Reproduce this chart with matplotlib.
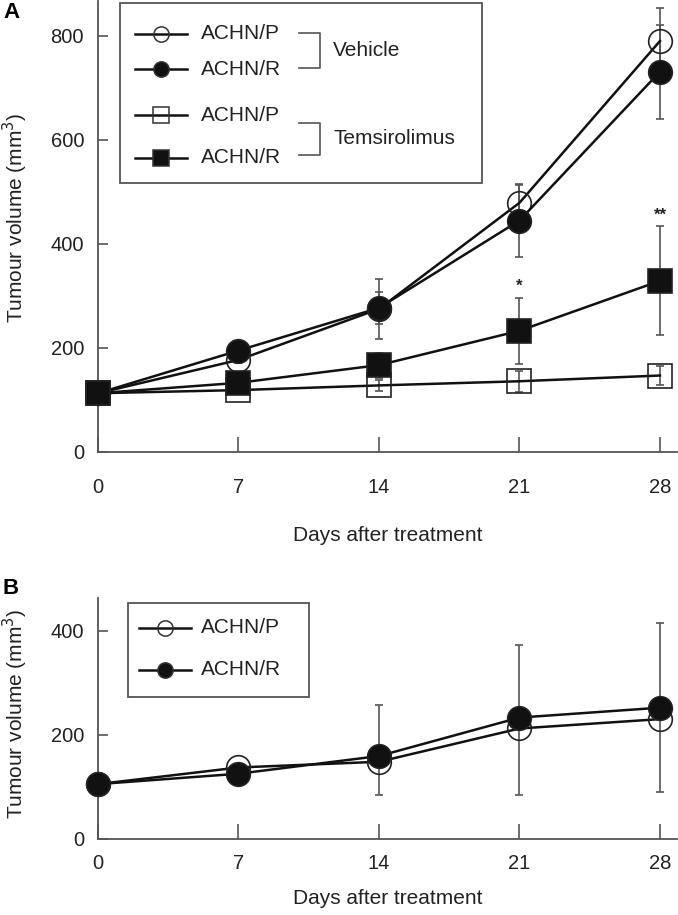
import numpy as np
import matplotlib.pyplot as plt
from matplotlib.patches import Rectangle

plt.rcParams['font.family'] = ['Liberation Sans', 'DejaVu Sans']

# ==========================================
# data
# ==========================================
days = [0, 7, 14, 21, 28]

# panel A : vehicle / temsirolimus, ACHN/P and ACHN/R
veh_p = [113, 177, 275, 479, 790]
veh_p_err = [0, 6, 57, 35, 64]
veh_r = [113, 195, 277, 445, 731]
veh_r_err = [0, 8, 30, 71, 90]
tem_p = [113, 119, 128, 136, 147]
tem_p_err = [0, 4, 10, 20, 18]
tem_r = [113, 133, 167, 233, 329]
tem_r_err = [0, 6, 24, 64, 105]

sig_days = [21, 28]
sig_marks = ['*', '**']

# panel B : ACHN/P and ACHN/R (bars drawn one side only)
b_p = [105, 137, 148, 212, 230]
b_p_lo = [0, 0, 64, 128, 141]
b_r = [105, 125, 159, 233, 252]
b_r_hi = [0, 0, 98, 139, 163]

x_ticks = [0, 7, 14, 21, 28]
ticks_a = [0, 200, 400, 600, 800]
ticks_b = [0, 200, 400]

# ==========================================
# style
# ==========================================
LINE = '#111111'
ERR = '#555555'
AXC = '#555555'
TXT = '#222222'
MS = 17
FS = 15


def draw_err(ax, x, y, lo, hi):
    x, y, lo, hi = map(np.asarray, (x, y, lo, hi))
    ax.vlines(x, y - lo, y + hi, color=ERR, lw=1.2, zorder=2)
    m = hi > 0
    ax.plot(x[m], (y + hi)[m], ls='none', marker='_', ms=6, mew=1.2, color=ERR, zorder=2)
    m = lo > 0
    ax.plot(x[m], (y - lo)[m], ls='none', marker='_', ms=6, mew=1.2, color=ERR, zorder=2)


def style_axes(ax, ymax, yticks, xpad):
    ax.set_xlim(0, 28.85)
    ax.set_ylim(0, ymax)
    for s in ['top', 'right']:
        ax.spines[s].set_visible(False)
    for s in ['left', 'bottom']:
        ax.spines[s].set_color(AXC)
        ax.spines[s].set_linewidth(1.3)
    ax.set_xticks(x_ticks)
    ax.set_yticks(yticks)
    ax.tick_params(axis='y', direction='in', length=7, width=1.2, color=AXC,
                   pad=10, labelsize=14.5, labelcolor=TXT)
    ax.tick_params(axis='x', direction='in', length=11, width=1.2, color=AXC,
                   pad=xpad, labelsize=14.5, labelcolor=TXT)
    ax.set_ylabel('Tumour volume (mm$^3$)', fontsize=FS, color=TXT)
    ax.yaxis.set_label_coords(-0.118, 0.52)


def legend_row(ax, y, label, marker, filled):
    ax.plot([0.064, 0.109, 0.154] if ax is axA else [0.071, 0.116, 0.161], [y, y, y],
            transform=ax.transAxes, color=LINE, lw=1.8, marker=marker, markevery=[1],
            ms=11, mfc=LINE if filled else 'none', mec='#333333', mew=1.1, clip_on=False)
    ax.text(0.178, y, label, transform=ax.transAxes, fontsize=FS, color=TXT, va='center')


fig = plt.figure(figsize=(6.78, 9.15), dpi=100)
axA = fig.add_axes([98 / 678, 1 - 452 / 915, 579 / 678, 451 / 915])
axB = fig.add_axes([98 / 678, 1 - 838.7 / 915, 579 / 678, 240.7 / 915])

# ==========================================
# panel A
# ==========================================
style_axes(axA, 867, ticks_a, 19)
axA.set_xlabel('Days after treatment', fontsize=FS, color=TXT)
axA.xaxis.set_label_coords(0.5, -0.165)

series_a = [
    (veh_p, veh_p_err, 'o', False),
    (veh_r, veh_r_err, 'o', True),
    (tem_p, tem_p_err, 's', False),
    (tem_r, tem_r_err, 's', True),
]
for vals, err, mk, filled in series_a:
    draw_err(axA, days, vals, err, err)
for i, (vals, err, mk, filled) in enumerate(series_a):
    axA.plot(days, vals, color=LINE, lw=1.8, marker=mk, ms=MS,
             mfc=LINE if filled else 'none', mec='#222222', mew=1.2, zorder=3 + i,
             clip_on=False)

# significance marks above the temsirolimus ACHN/R bars
for d, s in zip(sig_days, sig_marks):
    i = days.index(d)
    axA.text(d, tem_r[i] + tem_r_err[i] + 22, s, ha='center', va='center',
             fontsize=12, fontweight='bold', color=TXT)

# legend box with brackets
axA.add_patch(Rectangle((0.038, 0.597), 0.625, 0.399, transform=axA.transAxes,
                        fill=False, ec=AXC, lw=1.3, clip_on=False, zorder=10))
legend_row(axA, 0.9275, 'ACHN/P', 'o', False)
legend_row(axA, 0.8486, 'ACHN/R', 'o', True)
legend_row(axA, 0.7472, 'ACHN/P', 's', False)
legend_row(axA, 0.6519, 'ACHN/R', 's', True)
for y0, y1, lab in [(0.928, 0.851, 'Vehicle'), (0.730, 0.6585, 'Temsirolimus')]:
    axA.plot([0.347, 0.383, 0.383, 0.347], [y0, y0, y1, y1], transform=axA.transAxes,
             color=ERR, lw=1.2, clip_on=False)
    axA.text(0.406, (y0 + y1) / 2, lab, transform=axA.transAxes, fontsize=FS,
             color=TXT, va='center')

# ==========================================
# panel B
# ==========================================
style_axes(axB, 463, ticks_b, 11)
axB.set_xlabel('Days after treatment', fontsize=FS, color=TXT)
axB.xaxis.set_label_coords(0.5, -0.208)

draw_err(axB, days, b_p, b_p_lo, [0] * len(days))
draw_err(axB, days, b_r, [0] * len(days), b_r_hi)
axB.plot(days, b_p, color=LINE, lw=1.8, marker='o', ms=MS, mfc='none',
         mec='#222222', mew=1.2, zorder=3, clip_on=False)
axB.plot(days, b_r, color=LINE, lw=1.8, marker='o', ms=MS, mfc=LINE,
         mec='#222222', mew=1.2, zorder=4, clip_on=False)

axB.add_patch(Rectangle((0.0518, 0.590), 0.3126, 0.390, transform=axB.transAxes,
                        fill=False, ec=AXC, lw=1.3, clip_on=False, zorder=10))
legend_row(axB, 0.8766, 'ACHN/P', 'o', False)
legend_row(axB, 0.7009, 'ACHN/R', 'o', True)

# panel letters
fig.text(3 / 678, 1 - 13 / 915, 'A', fontsize=16, fontweight='bold', va='center')
fig.text(3 / 678, 1 - 589 / 915, 'B', fontsize=16, fontweight='bold', va='center')

fig.savefig('out.png', dpi=100)
